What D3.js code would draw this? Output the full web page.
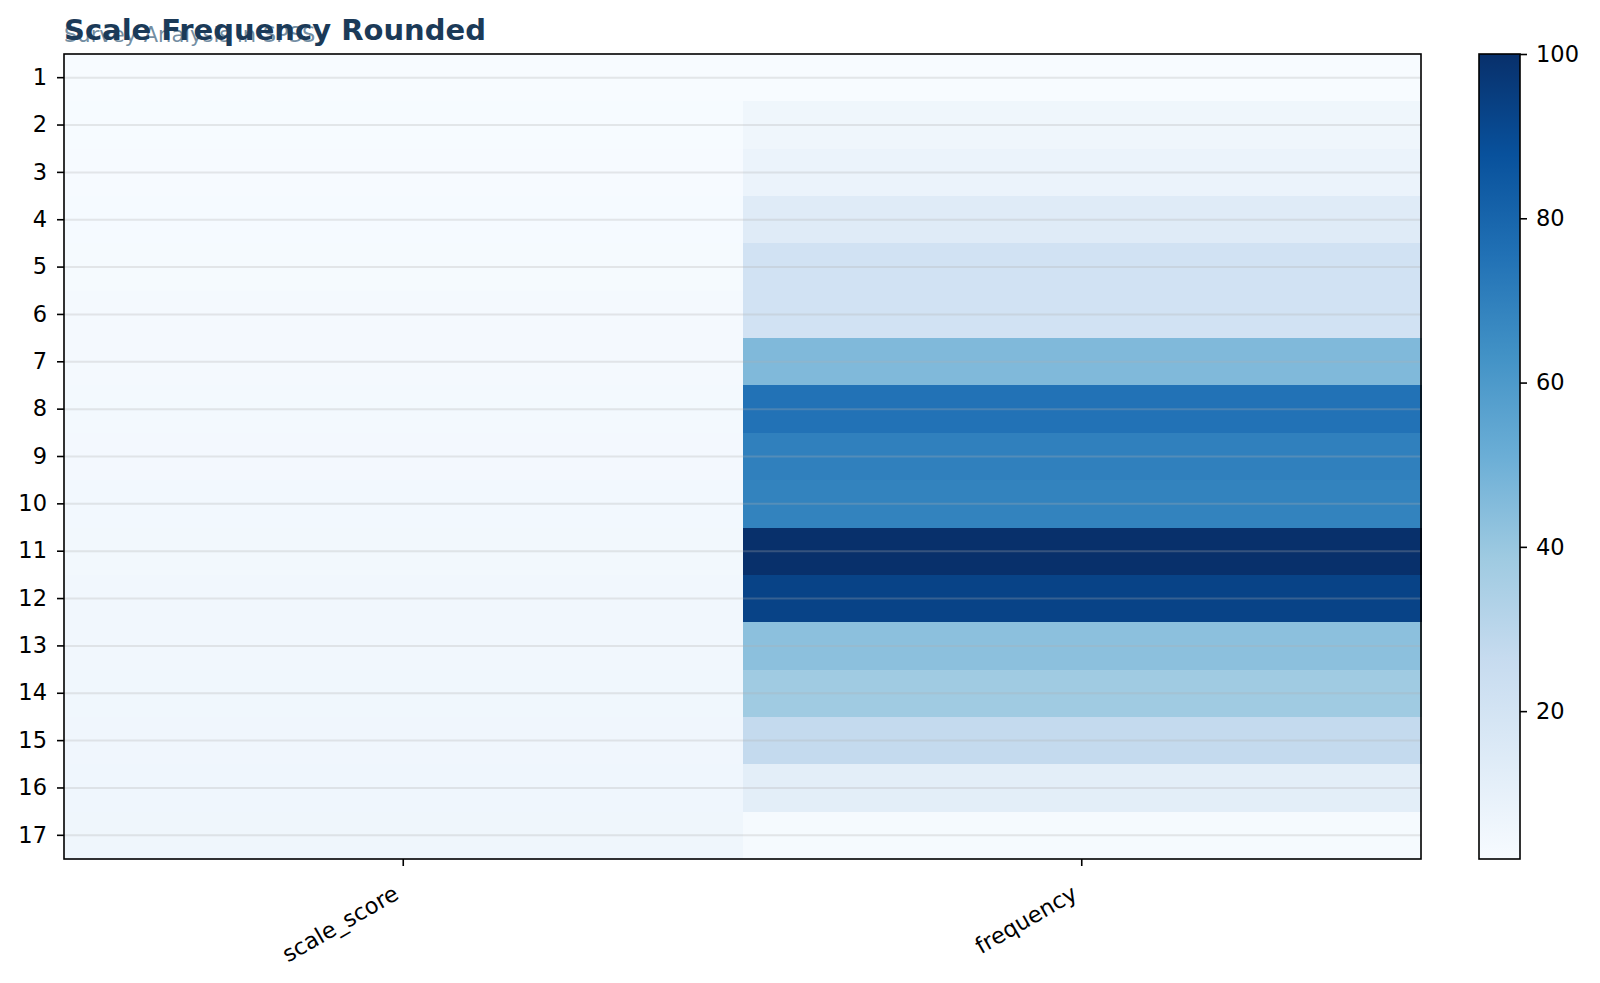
<!DOCTYPE html>
<html>
<head>
<meta charset="utf-8">
<script src="https://cdn.jsdelivr.net/npm/d3@7/dist/d3.min.js"></script>
<style>
  html, body { margin: 0; padding: 0; background: #ffffff; }
  svg { display: block; font-family: "DejaVu Sans", sans-serif; }
</style>
</head>
<body>
<svg id="chart" width="1600" height="983"></svg>
<script>
// ---- data ----
const rowLabels = ["1","2","3","4","5","6","7","8","9","10","11","12","13","14","15","16","17"];
const columns = ["scale_score", "frequency"];
const scaleScore = [2.0, 2.25, 2.5, 2.75, 3.0, 3.25, 3.5, 3.75, 4.0, 4.25, 4.5, 4.75, 5.0, 5.25, 5.5, 5.75, 6.0];
const frequency = [2, 6, 8, 14, 21, 21, 46, 75, 70, 69, 100, 93, 43, 38, 27, 12, 3];
const colorbarTicks = [20, 40, 60, 80, 100];
const titleText = "Scale Frequency Rounded";
const subtitleText = "Survey Analysis in SPSS";
// matplotlib "Blues" anchor colours
const bluesStops = ["#f7fbff","#deebf7","#c6dbef","#9ecae1","#6baed6","#4292c6","#2171b5","#08519c","#08306b"];

// ---- layout ----
const svg = d3.select("#chart");
const plot = { left: 64, top: 54, right: 1421, bottom: 859 };
const cbar = { left: 1479, right: 1520, top: 54, bottom: 859 };
const fontTick = 22.5;

const seriesByColumn = { scale_score: scaleScore, frequency: frequency };
const cells = [];
columns.forEach(col => {
  seriesByColumn[col].forEach((v, i) => cells.push({ col, row: rowLabels[i], value: v }));
});

const allValues = scaleScore.concat(frequency);
const vmin = d3.min(allValues), vmax = d3.max(allValues);

const x = d3.scaleBand().domain(columns).range([plot.left, plot.right]).padding(0);
const y = d3.scaleBand().domain(rowLabels).range([plot.top, plot.bottom]).padding(0);

const color = d3.scaleLinear()
  .domain(d3.range(bluesStops.length).map(i => vmin + (vmax - vmin) * i / (bluesStops.length - 1)))
  .range(bluesStops)
  .interpolate(d3.interpolateRgb)
  .clamp(true);

// ---- heatmap cells ----
svg.append("g").selectAll("rect")
  .data(cells).join("rect")
  .attr("x", d => x(d.col))
  .attr("y", d => y(d.row))
  .attr("width", x.bandwidth() + 0.5)
  .attr("height", y.bandwidth() + 0.5)
  .attr("fill", d => color(d.value))
  .attr("shape-rendering", "crispEdges");

// ---- horizontal grid lines ----
svg.append("g").selectAll("line")
  .data(rowLabels).join("line")
  .attr("x1", plot.left).attr("x2", plot.right)
  .attr("y1", d => y(d) + y.bandwidth() / 2)
  .attr("y2", d => y(d) + y.bandwidth() / 2)
  .attr("stroke", "#b0b0b0")
  .attr("stroke-opacity", 0.28)
  .attr("stroke-width", 2);

// ---- axes ----
const yAxis = d3.axisLeft(y).tickSize(7).tickPadding(10);
const gy = svg.append("g").attr("transform", `translate(${plot.left},0)`).call(yAxis);
gy.select(".domain").remove();
gy.selectAll(".tick line").attr("stroke", "#000").attr("stroke-width", 1.6);
gy.selectAll(".tick text").attr("font-size", fontTick).attr("fill", "#000")
  .attr("font-family", "DejaVu Sans");

const xAxis = d3.axisBottom(x).tickSize(7).tickPadding(0);
const gx = svg.append("g").attr("transform", `translate(0,${plot.bottom})`).call(xAxis);
gx.select(".domain").remove();
gx.selectAll(".tick line").attr("stroke", "#000").attr("stroke-width", 1.6);
gx.selectAll(".tick text")
  .attr("font-size", fontTick).attr("fill", "#000")
  .attr("font-family", "DejaVu Sans")
  .attr("text-anchor", "end")
  .attr("dy", null)
  .attr("y", 0)
  .attr("transform", "translate(-3,39) rotate(-30)");

// plot frame
svg.append("rect")
  .attr("x", plot.left).attr("y", plot.top)
  .attr("width", plot.right - plot.left).attr("height", plot.bottom - plot.top)
  .attr("fill", "none").attr("stroke", "#000").attr("stroke-width", 1.6);

// ---- colorbar ----
const defs = svg.append("defs");
const grad = defs.append("linearGradient").attr("id", "cbgrad")
  .attr("x1", "0").attr("y1", "1").attr("x2", "0").attr("y2", "0");
bluesStops.forEach((c, i) => {
  grad.append("stop").attr("offset", i / (bluesStops.length - 1)).attr("stop-color", c);
});
svg.append("rect")
  .attr("x", cbar.left).attr("y", cbar.top)
  .attr("width", cbar.right - cbar.left).attr("height", cbar.bottom - cbar.top)
  .attr("fill", "url(#cbgrad)");

const cy = d3.scaleLinear().domain([vmin, vmax]).range([cbar.bottom, cbar.top]);
const cAxis = d3.axisRight(cy).tickValues(colorbarTicks).tickSize(7).tickPadding(9).tickFormat(d3.format("d"));
const gc = svg.append("g").attr("transform", `translate(${cbar.right},0)`).call(cAxis);
gc.select(".domain").remove();
gc.selectAll(".tick line").attr("stroke", "#000").attr("stroke-width", 1.6);
gc.selectAll(".tick text").attr("font-size", fontTick).attr("fill", "#000")
  .attr("font-family", "DejaVu Sans");

svg.append("rect")
  .attr("x", cbar.left).attr("y", cbar.top)
  .attr("width", cbar.right - cbar.left).attr("height", cbar.bottom - cbar.top)
  .attr("fill", "none").attr("stroke", "#000").attr("stroke-width", 1.6);

// ---- titles ----
svg.append("text")
  .attr("x", plot.left).attr("y", 42)
  .attr("font-size", 21)
  .attr("fill", "#5b7a92")
  .attr("fill-opacity", 0.85)
  .text(subtitleText);

svg.append("text")
  .attr("x", plot.left).attr("y", 40)
  .attr("font-size", 29)
  .attr("font-weight", "bold")
  .attr("fill", "#1b3a58")
  .text(titleText);
</script>
</body>
</html>
